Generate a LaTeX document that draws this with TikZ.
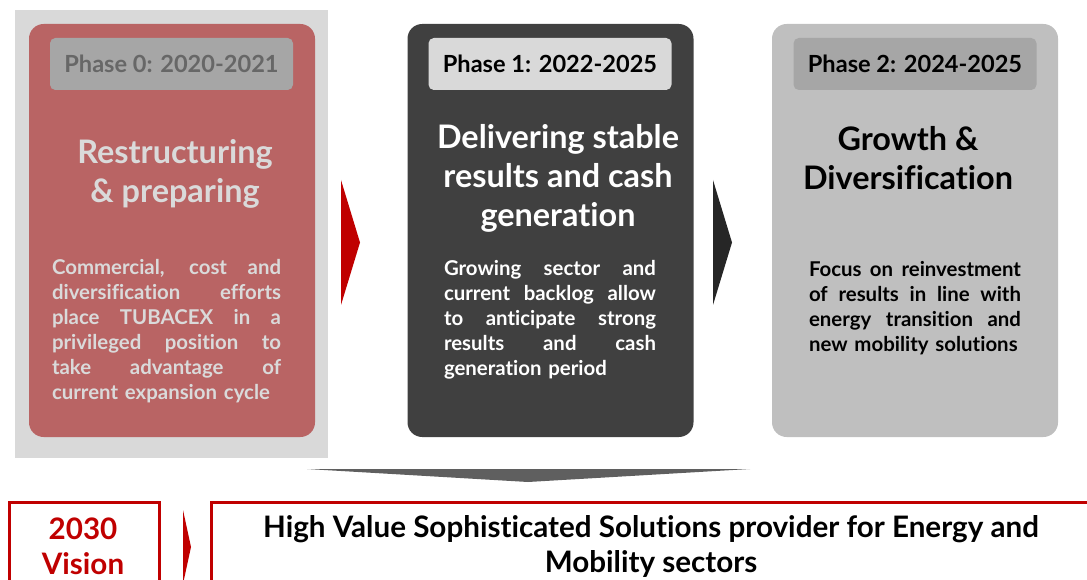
\documentclass[tikz,border=0pt]{standalone}
\usepackage{fontspec}
\setmainfont{Lato}[Ligatures=CommonOff]
\newcommand\jline[2]{{\spaceskip=0pt\xspaceskip=0pt\makebox[#1][s]{#2}}}
\definecolor{bggray}{HTML}{D9D9D9}
\definecolor{cardred}{HTML}{B96464}
\definecolor{carddark}{HTML}{404040}
\definecolor{cardlight}{HTML}{BFBFBF}
\definecolor{lblgray}{HTML}{A6A6A6}
\definecolor{lbllight}{HTML}{D9D9D9}
\definecolor{txtmute}{HTML}{676767}
\definecolor{txtpale}{HTML}{DADADA}
\definecolor{vred}{HTML}{C00000}
\definecolor{arrdark}{HTML}{262626}
\definecolor{chev}{HTML}{5F5F5F}
\tikzset{
  card/.style={rounded corners=11pt, minimum width=214.5pt, minimum height=309.75pt, inner sep=0pt},
  phaselbl/.style={rounded corners=4pt, minimum width=182.25pt, minimum height=39pt, inner sep=0pt,
    font=\fontsize{17.7}{21}\selectfont\bfseries},
  title/.style={align=center, inner sep=0pt, font=\fontsize{24.3}{29.25}\selectfont\bfseries},
  body/.style={align=left, inner sep=0pt, font=\fontsize{15.3}{18.75}\selectfont\bfseries},
  visionbox/.style={draw=vred, line width=2.2pt, fill=white},
  visiontxt/.style={align=center, inner sep=0pt, font=\fontsize{22.2}{26.25}\selectfont\bfseries}
}
\begin{document}
\begin{tikzpicture}[x=0.75pt,y=-0.75pt]
\useasboundingbox (0,0) rectangle (1087,580);
\clip (0,0) rectangle (1087,580);
% background highlight of phase 0
\fill[bggray] (15,10) rectangle (328,458);
% cards
\node[card, fill=cardred] (c0) at (172,230.5) {};
\node[card, fill=carddark] (c1) at (550.5,230.5) {};
\node[card, fill=cardlight] (c2) at (915,230.5) {};
% phase labels
\node[phaselbl, fill=lblgray, text=txtmute] (l0) at (171.5,64) {Phase 0: 2020-2021};
\node[phaselbl, fill=lbllight, text=black] (l1) at (550,64) {Phase 1: 2022-2025};
\node[phaselbl, fill=lblgray, text=black] (l2) at (915,64) {Phase 2: 2024-2025};
% titles
\node[title, text=txtpale] (t0) at (175,173.5) {Restructuring\\\& preparing};
\node[title, text=white] (t1) at (558,178) {Delivering stable\\results and cash\\generation};
\node[title, text=black] (t2) at (908,158.5) {Growth \&\\Diversification};
% bodies
\node[body, text=txtpale, text width=171.75pt] (b0) at (166.5,331) {%
\jline{171.75pt}{Commercial, cost and}\\
\jline{171.75pt}{diversification efforts}\\
\jline{171.75pt}{place TUBACEX in a}\\
\jline{171.75pt}{privileged position to}\\
\jline{171.75pt}{take advantage of}\\
current expansion cycle};
\node[body, text=white, text width=159pt] (b1) at (550,320) {%
\jline{159pt}{Growing sector and}\\
\jline{159pt}{current backlog allow}\\
\jline{159pt}{to anticipate strong}\\
\jline{159pt}{results and cash}\\
generation period};
\node[body, text=black, text width=159pt] (b2) at (915,308) {%
\jline{159pt}{Focus on reinvestment}\\
\jline{159pt}{of results in line with}\\
\jline{159pt}{energy transition and}\\
new mobility solutions};
% arrows between phases
\fill[vred] (341,180) -- (360,242.5) -- (341,305) -- cycle;
\fill[arrdark] (713,180) -- (732,242.5) -- (713,305) -- cycle;
% chevron down
\fill[chev] (307,469) -- (750,469) -- (528,482) -- cycle;
% vision
\node[visionbox, minimum width=112.5pt, minimum height=75pt, anchor=north west, inner sep=0pt] (vb) at (8,501) {};
\node[visiontxt, text=vred] (vt) at (83,546.5) {2030\\Vision};
\fill[vred] (183,510) -- (191,547) -- (183,584) -- cycle;
\node[visionbox, minimum width=667.5pt, minimum height=75pt, anchor=north west, inner sep=0pt] (sb) at (210,501) {};
\node[visiontxt, text=black] (st) at (651,546.5) {High Value Sophisticated Solutions provider for Energy and\\Mobility sectors};
\end{tikzpicture}
\end{document}
